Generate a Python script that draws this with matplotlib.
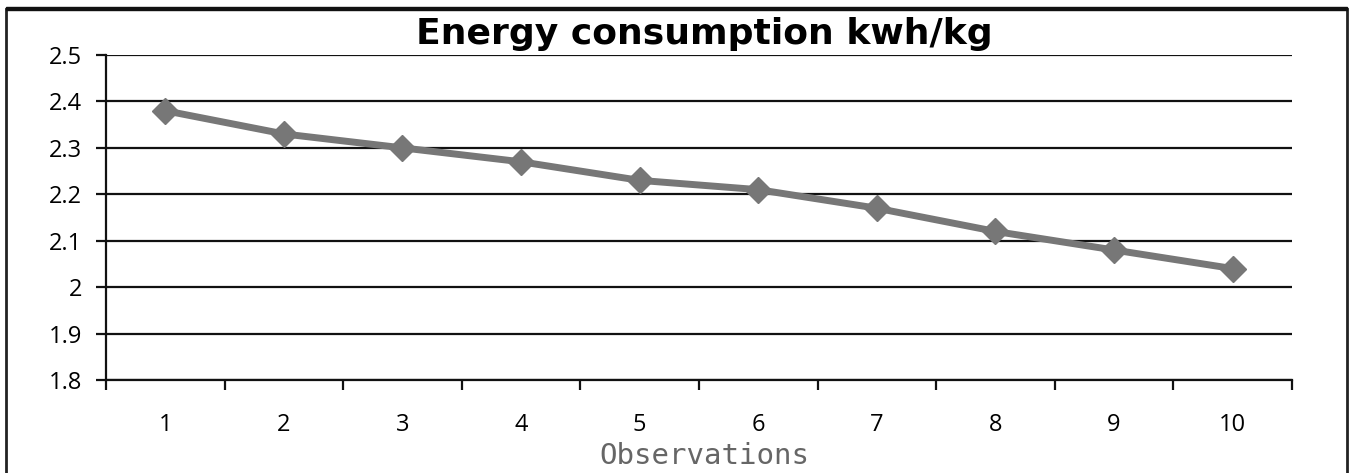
import matplotlib.pyplot as plt
from matplotlib.patches import Rectangle
from matplotlib.ticker import FixedLocator

observations = [1, 2, 3, 4, 5, 6, 7, 8, 9, 10]
energy = [2.38, 2.33, 2.30, 2.27, 2.23, 2.21, 2.17, 2.12, 2.08, 2.04]
y_ticks = [1.8, 1.9, 2.0, 2.1, 2.2, 2.3, 2.4, 2.5]
y_labels = ['1.8', '1.9', '2', '2.1', '2.2', '2.3', '2.4', '2.5']

fig = plt.figure(figsize=(13.5, 4.73), dpi=100)
ax = fig.add_axes([0.0785, 0.1966, 0.8785, 0.6871])

# outer frame of the chart area
fig.patches.append(Rectangle((6 / 1350, -0.05), 1341 / 1350, (473 - 9) / 473 + 0.05,
                             transform=fig.transFigure, fill=False,
                             edgecolor='#222222', linewidth=2))
fig.patches.append(Rectangle((6 / 1350, (473 - 10) / 473), 1341 / 1350, 3 / 473,
                             transform=fig.transFigure, color='#111111'))

ax.plot(observations, energy, color='#777777', linewidth=5,
        marker='D', markersize=13, markerfacecolor='#777777',
        markeredgecolor='#777777', zorder=3)

ax.set_xlim(0.5, 10.5)
ax.set_ylim(1.8, 2.5)
ax.set_yticks(y_ticks)
ax.set_yticklabels(y_labels)
ax.set_xticks(observations)
ax.xaxis.set_minor_locator(FixedLocator([i + 0.5 for i in range(0, 11)]))

ax.grid(axis='y', color='#111111', linewidth=1.6)
ax.set_axisbelow(True)
for side in ['right', 'top']:
    ax.spines[side].set_visible(False)
for side in ['left', 'bottom']:
    ax.spines[side].set_color('#111111')
    ax.spines[side].set_linewidth(1.6)

ax.tick_params(axis='y', length=7, width=1.6, pad=10, labelsize=17, color='#111111')
ax.tick_params(axis='x', which='major', length=0, pad=24, labelsize=17)
ax.tick_params(axis='x', which='minor', length=7, width=1.6, color='#111111')
for lab in ax.get_xticklabels() + ax.get_yticklabels():
    lab.set_family('Open Sans')

fig.text(0.522, 0.928, 'Energy consumption kwh/kg', ha='center', va='center',
         fontsize=26, fontweight='heavy', family='DejaVu Sans')
fig.text(0.522, 0.036, 'Observations', ha='center', va='center',
         fontsize=21, family='DejaVu Sans Mono', color='#666666')

fig.savefig('out.png', dpi=100)
